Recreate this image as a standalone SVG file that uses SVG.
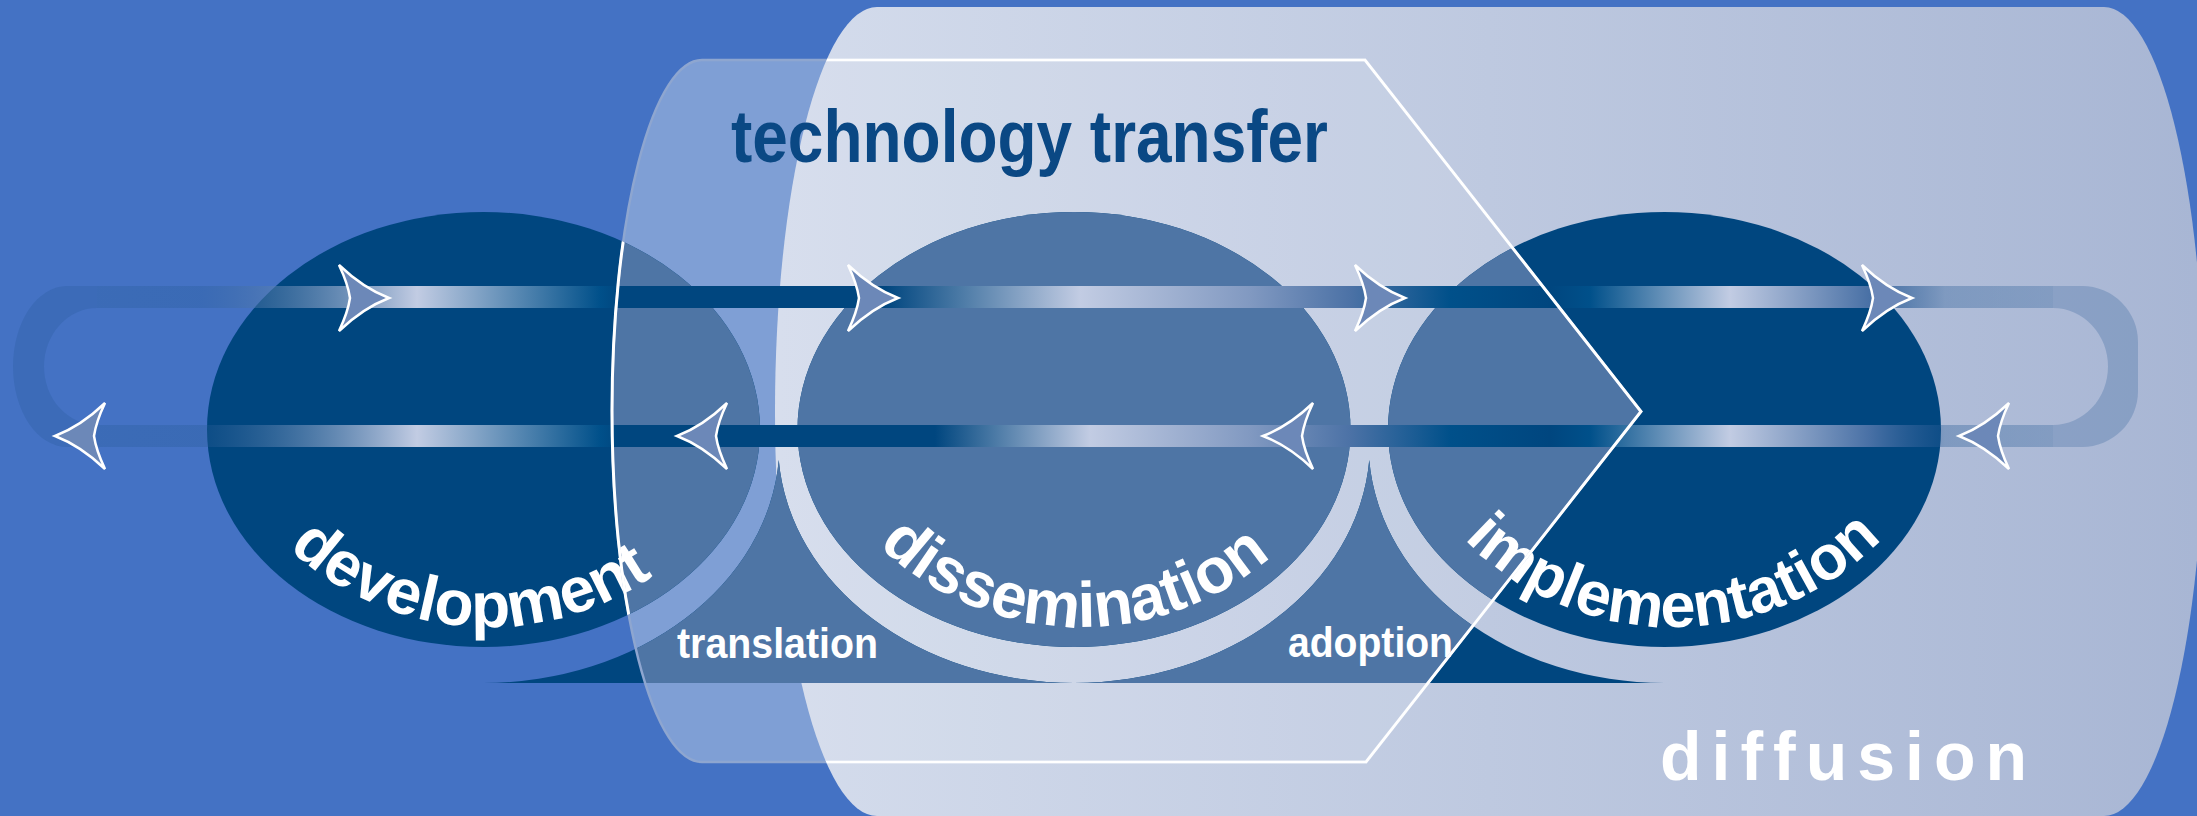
<svg xmlns="http://www.w3.org/2000/svg" width="2197" height="816" viewBox="0 0 2197 816">
<defs>
<style>
.lbl{font-family:"Liberation Sans",Arial,sans-serif;font-weight:bold;fill:#ffffff}
.dark{fill:#00467F}
.light{fill:#4E75A5}
.arrow{fill:#6C88B8;stroke:#ffffff;stroke-width:2.5;stroke-linejoin:miter}
.end{fill:#245993;fill-opacity:0.25}
</style>
<linearGradient id="diffG" gradientUnits="userSpaceOnUse" x1="780" y1="0" x2="2197" y2="0">
<stop offset="0" stop-color="#D4DCEC"/>
<stop offset="1" stop-color="#A8B6D4"/>
</linearGradient>
<linearGradient id="bandT" gradientUnits="userSpaceOnUse" x1="0" y1="0" x2="2197" y2="0">
<stop offset="0" stop-color="#245993" stop-opacity="0.25"/>
<stop offset="0.0910" stop-color="#245993" stop-opacity="0.3"/>
<stop offset="0.1898" stop-color="#C2CCE3"/>
<stop offset="0.2731" stop-color="#00508A"/>
<stop offset="0.2822" stop-color="#00467F"/>
<stop offset="0.4028" stop-color="#00467F"/>
<stop offset="0.4916" stop-color="#C2CCE3"/>
<stop offset="0.5690" stop-color="#8199C1"/>
<stop offset="0.6145" stop-color="#4C72A6"/>
<stop offset="0.6600" stop-color="#00508A"/>
<stop offset="0.7055" stop-color="#00467F"/>
<stop offset="0.7237" stop-color="#00508A"/>
<stop offset="0.7874" stop-color="#C2CCE3"/>
<stop offset="0.8512" stop-color="#4870A5"/>
<stop offset="0.8853" stop-color="#245993" stop-opacity="0.35"/>
<stop offset="1" stop-color="#245993" stop-opacity="0.25"/>
</linearGradient>
<linearGradient id="bandB" gradientUnits="userSpaceOnUse" x1="0" y1="0" x2="2197" y2="0">
<stop offset="0" stop-color="#245993" stop-opacity="0.25"/>
<stop offset="0.0910" stop-color="#245993" stop-opacity="0.3"/>
<stop offset="0.1898" stop-color="#C2CCE3"/>
<stop offset="0.2731" stop-color="#00508A"/>
<stop offset="0.2822" stop-color="#00467F"/>
<stop offset="0.4256" stop-color="#00467F"/>
<stop offset="0.4961" stop-color="#C2CCE3"/>
<stop offset="0.5690" stop-color="#8199C1"/>
<stop offset="0.6145" stop-color="#4C72A6"/>
<stop offset="0.6600" stop-color="#00508A"/>
<stop offset="0.7055" stop-color="#00467F"/>
<stop offset="0.7237" stop-color="#00508A"/>
<stop offset="0.7874" stop-color="#C2CCE3"/>
<stop offset="0.8512" stop-color="#4870A5"/>
<stop offset="0.8853" stop-color="#245993" stop-opacity="0.35"/>
<stop offset="1" stop-color="#245993" stop-opacity="0.25"/>
</linearGradient>
<path id="techP" d="M702,60 H1365 L1641,411.5 L1366,762 H702 A90,351 0 0 1 702,60 Z"/>
<path id="diffP" d="M877,7 H2104 A100,404.5 0 0 1 2104,816 H877 A102,404.5 0 0 1 877,7 Z"/>
<ellipse id="eDev" cx="483.5" cy="429.5" rx="276.5" ry="217.5"/>
<ellipse id="eDis" cx="1074" cy="429.5" rx="276.5" ry="217.5"/>
<ellipse id="eImp" cx="1664.5" cy="429.5" rx="276.5" ry="217.5"/>
<path id="sTr" d="M483.5,683 A296,240 0 0 0 778.75,460 A296,240 0 0 0 1074,683 Z"/>
<path id="sAd" d="M1074,683 A296,240 0 0 0 1369.25,460 A296,240 0 0 0 1664.5,683 Z"/>
<clipPath id="techClip"><use href="#techP"/></clipPath>
<clipPath id="diffClip"><use href="#diffP"/></clipPath>
<clipPath id="whiteClip"><use href="#diffP"/><use href="#eDev"/></clipPath>
<path id="arrowR" d="M-50,-33 Q-26,-10 0,0 Q-26,10 -50,33 Q-41,14 -39,0 Q-41,-14 -50,-33 Z"/>
<path id="tpDev" d="M196,335 A292,292 0 0 0 780,335"/>
<path id="tpDis" d="M789,335 A292,292 0 0 0 1373,335"/>
<path id="tpImp" d="M1381,335 A292,292 0 0 0 1965,335"/>
</defs>

<rect x="0" y="0" width="2197" height="816" fill="#4472C4"/>

<g id="technology-transfer-area">
<use href="#techP" fill="#7F9FD5"/>
</g>

<g id="diffusion">
<use href="#diffP" fill="url(#diffG)"/>
<use href="#techP" fill="#ffffff" fill-opacity="0.08" clip-path="url(#diffClip)"/>
</g>

<g id="development">
<use href="#eDev" class="dark"/>
<use href="#eDev" class="light" clip-path="url(#techClip)"/>
</g>
<g id="dissemination">
<use href="#eDis" class="dark"/>
<use href="#eDis" class="light" clip-path="url(#techClip)"/>
</g>
<g id="implementation">
<use href="#eImp" class="dark"/>
<use href="#eImp" class="light" clip-path="url(#techClip)"/>
</g>
<g id="translation">
<use href="#sTr" class="dark"/>
<use href="#sTr" class="light" clip-path="url(#techClip)"/>
</g>
<g id="adoption">
<use href="#sAd" class="dark"/>
<use href="#sAd" class="light" clip-path="url(#techClip)"/>
</g>

<g id="connectors">
<path class="end" d="M97,286 H67 A54,80.5 0 0 0 67,447 H97 V425 A53,58.5 0 0 1 97,308 Z"/>
<path class="end" d="M2053,286 H2082 A56,56 0 0 1 2138,342 V391 A56,56 0 0 1 2082,447 H2053 V425 A55,58.5 0 0 0 2053,308 Z"/>
<rect x="97" y="286" width="1956" height="22" fill="url(#bandT)"/>
<rect x="97" y="425" width="1956" height="22" fill="url(#bandB)"/>
<use href="#arrowR" class="arrow" x="389" y="298"/>
<use href="#arrowR" class="arrow" x="898" y="298"/>
<use href="#arrowR" class="arrow" x="1405" y="298"/>
<use href="#arrowR" class="arrow" x="1912" y="298"/>
<use href="#arrowR" class="arrow" transform="translate(55,436) scale(-1,1)"/>
<use href="#arrowR" class="arrow" transform="translate(677,436) scale(-1,1)"/>
<use href="#arrowR" class="arrow" transform="translate(1263,436) scale(-1,1)"/>
<use href="#arrowR" class="arrow" transform="translate(1959,436) scale(-1,1)"/>
</g>

<g id="labels">
<text class="lbl" font-size="64" text-anchor="middle"><textPath href="#tpDev" startOffset="47.6%">development</textPath></text>
<text class="lbl" font-size="64" text-anchor="middle"><textPath href="#tpDis" startOffset="49.1%">dissemination</textPath></text>
<text class="lbl" font-size="63" text-anchor="middle"><textPath href="#tpImp" startOffset="50%">implementation</textPath></text>
<text class="lbl" x="677" y="658" font-size="43" textLength="201" lengthAdjust="spacingAndGlyphs">translation</text>
<text class="lbl" x="1288" y="657" font-size="43" textLength="165" lengthAdjust="spacingAndGlyphs">adoption</text>
</g>

<g id="technology-transfer-outline">
<use href="#techP" fill="none" stroke="#8EA6D0" stroke-width="2.5"/>
<use href="#techP" fill="none" stroke="#ffffff" stroke-width="3" clip-path="url(#whiteClip)"/>
</g>

<text class="lbl" x="731" y="162" font-size="75" style="fill:#0A4884" textLength="597" lengthAdjust="spacingAndGlyphs">technology transfer</text>
<text class="lbl" x="1660" y="780" font-size="68" textLength="367">diffusion</text>
</svg>
